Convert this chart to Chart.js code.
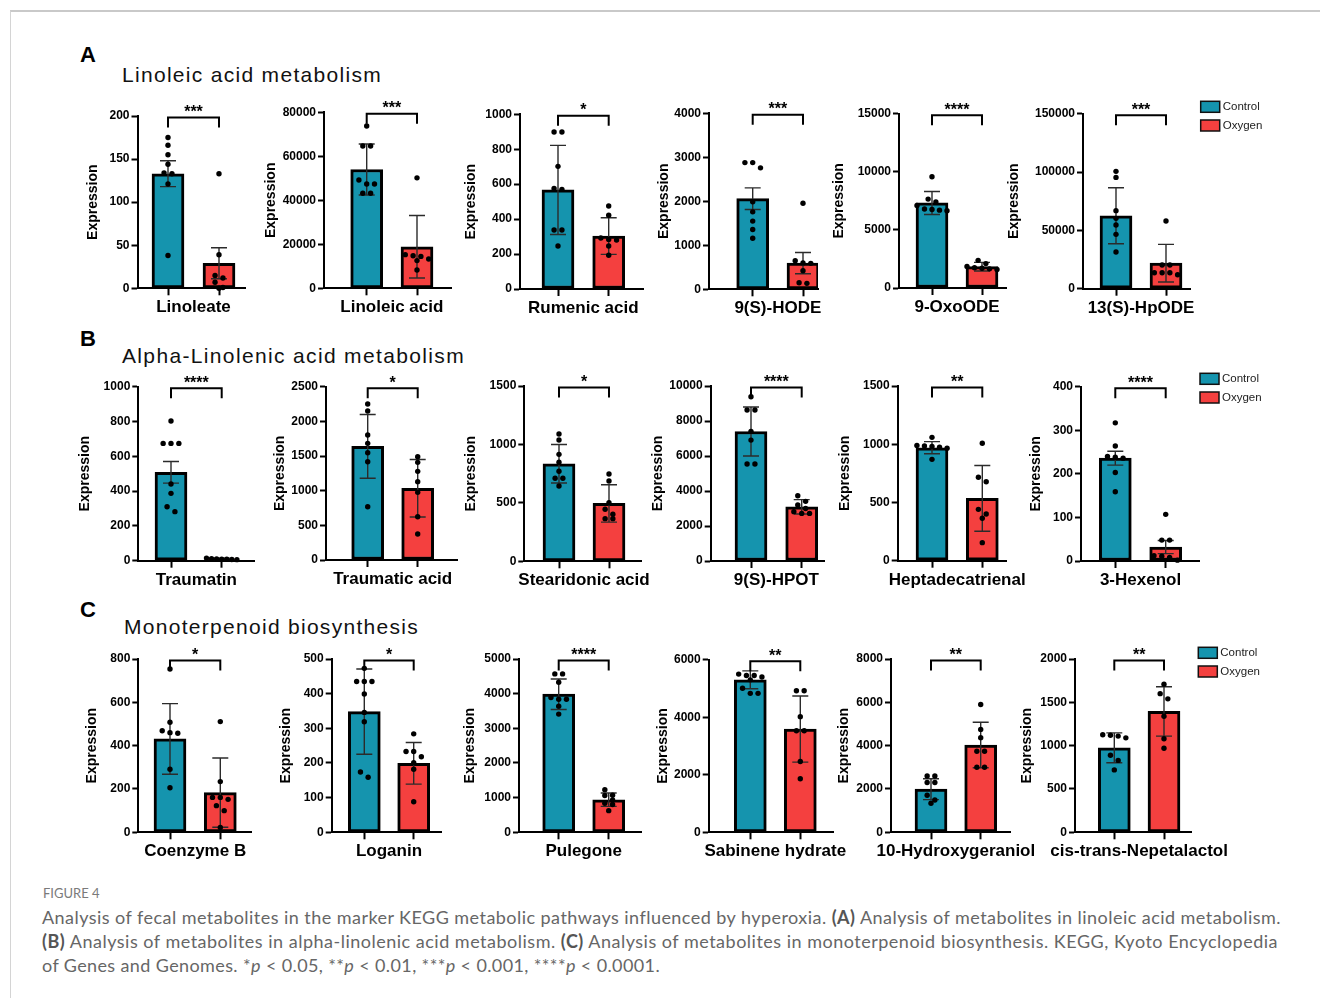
<!DOCTYPE html>
<html>
<head>
<meta charset="utf-8">
<script src="https://cdn.jsdelivr.net/npm/chart.js@4.4.1/dist/chart.umd.min.js"></script>
<style>
  html, body { margin: 0; padding: 0; background: #fff; }
  body { width: 1320px; height: 998px; overflow: hidden; position: relative; font-family: 'Liberation Sans', Arial, sans-serif; }
  .frame { position: absolute; left: 10px; top: 10px; width: 1400px; height: 1100px; border-top: 2px solid #c9c9c9; border-left: 1px solid #d4d4d4; }
  .letter { position: absolute; font-weight: bold; font-size: 22px; line-height: 1; color: #000; white-space: nowrap; }
  .sect { position: absolute; font-size: 21px; line-height: 1; color: #111; white-space: nowrap; }
  canvas { position: absolute; }
  .figlabel { position: absolute; left: 43px; top: 887px; font-family: Lato, 'Open Sans', sans-serif; font-size: 13px; line-height: 1; color: #7a7a7a; white-space: nowrap; }
  .cap { position: absolute; left: 42px; font-family: Lato, 'Open Sans', sans-serif; font-size: 18px; line-height: 1; color: #666; white-space: nowrap; }
  .cap b { color: #555; }
</style>
</head>
<body>
<div class="frame"></div>

<div class="letter" style="left:80px;top:44px">A</div>
<div class="sect" id="sect0" style="left:122px;top:63.9px"></div>
<div class="letter" style="left:80px;top:328px">B</div>
<div class="sect" id="sect1" style="left:122px;top:344.5px"></div>
<div class="letter" style="left:80px;top:599px">C</div>
<div class="sect" id="sect2" style="left:124px;top:615.5px"></div>

<div class="figlabel">FIGURE 4</div>
<div class="cap" id="cap1" style="top:908px">Analysis of fecal metabolites in the marker KEGG metabolic pathways influenced by hyperoxia. <b>(A)</b> Analysis of metabolites in linoleic acid metabolism.</div>
<div class="cap" id="cap2" style="top:932px"><b>(B)</b> Analysis of metabolites in alpha-linolenic acid metabolism. <b>(C)</b> Analysis of metabolites in monoterpenoid biosynthesis. KEGG, Kyoto Encyclopedia</div>
<div class="cap" id="cap3" style="top:956px">of Genes and Genomes. *<i>p</i> &lt; 0.05, **<i>p</i> &lt; 0.01, ***<i>p</i> &lt; 0.001, ****<i>p</i> &lt; 0.0001.</div>

<script>
// ---- data -------------------------------------------------------------
const groups = ['Control', 'Oxygen'];
const groupColors = ['#1594ae', '#f4403f'];

const sectionTitles = ['Linoleic acid metabolism', 'Alpha-Linolenic acid metabolism', 'Monoterpenoid biosynthesis'];

const metabolites = [
  'Linoleate', 'Linoleic acid', 'Rumenic acid', '9(S)-HODE', '9-OxoODE', '13(S)-HpODE',
  'Traumatin', 'Traumatic acid', 'Stearidonic acid', '9(S)-HPOT', 'Heptadecatrienal', '3-Hexenol',
  'Coenzyme B', 'Loganin', 'Pulegone', 'Sabinene hydrate', '10-Hydroxygeraniol', 'cis-trans-Nepetalactol'
];

const yMax  = [200, 80000, 1000, 4000, 15000, 150000, 1000, 2500, 1500, 10000, 1500, 400, 800, 500, 5000, 6000, 8000, 2000];
const yStep = [50, 20000, 200, 1000, 5000, 50000, 200, 500, 500, 2000, 500, 100, 200, 100, 1000, 2000, 2000, 500];

const controlMean = [133, 54000, 567, 2060, 7320, 62500, 508, 1640, 835, 7400, 970, 236, 431, 348, 3985, 5300, 1990, 975];
const controlErr  = [15, 11600, 255, 245, 990, 24000, 62, 460, 165, 1400, 52, 16, 163, 123, 440, 310, 480, 172];
const oxygenMean  = [29, 18900, 303, 595, 1835, 21900, 10, 1035, 495, 3100, 535, 32, 183, 199, 940, 3590, 4030, 1395];
const oxygenErr   = [18, 14200, 105, 240, 370, 16100, 4, 415, 160, 410, 282, 15, 160, 60, 192, 1150, 1050, 285];

const controlPoints = [
  [175, 166, 155, 144, 134, 133, 121, 38],
  [73800, 64700, 64700, 49200, 47400, 47400, 43200, 43200],
  [899, 899, 702, 575, 570, 338, 338, 246],
  [2880, 2880, 2760, 1990, 1760, 1550, 1360, 1160],
  [9580, 7650, 7400, 7100, 6800, 6750, 6700, 6650],
  [100600, 95400, 66900, 60300, 54600, 46600, 31400],
  [803, 674, 674, 674, 441, 387, 310, 282],
  [2250, 2149, 1803, 1683, 1548, 1418, 769],
  [1089, 1038, 915, 847, 770, 710, 710, 644],
  [9390, 8630, 8630, 7410, 6910, 5540, 5540],
  [1059, 990, 985, 980, 975, 965, 870],
  [317, 264, 240, 238, 236, 203, 159],
  [754, 508, 469, 460, 457, 291, 206],
  [473, 435, 435, 435, 399, 346, 319, 174, 159],
  [4570, 4570, 4330, 3890, 3840, 3840, 3640, 3410],
  [5500, 5450, 5450, 5400, 5300, 5010, 4830, 4830],
  [2600, 2600, 2300, 2300, 1710, 1490, 1340],
  [1125, 1120, 1110, 1090, 890, 830, 720]
];
const oxygenPoints = [
  [133, 39, 15, 12, 7, 1, 0],
  [50200, 15300, 14800, 14500, 13300, 12600, 8300],
  [475, 422, 292, 284, 280, 246, 193],
  [1955, 650, 600, 590, 420, 150, 135],
  [2380, 2100, 1850, 1750, 1700, 1650, 1600],
  [58000, 20300, 20300, 13700, 13700, 13700, 12000],
  [15, 12, 10, 9, 8, 7, 6],
  [1490, 1409, 1279, 1130, 976, 625, 375],
  [747, 687, 502, 445, 402, 365, 365],
  [3730, 3410, 3200, 3000, 2820, 2720, 2720],
  [1008, 716, 678, 441, 401, 364, 155],
  [107, 48, 48, 12, 11, 8, 2],
  [511, 234, 161, 161, 152, 123, 100, 22],
  [284, 233, 233, 218, 201, 182, 88],
  [1230, 1070, 1060, 930, 840, 800, 625],
  [4920, 4920, 4020, 3530, 3530, 2460, 1860],
  [5900, 4750, 4370, 3740, 3740, 3000, 3000],
  [1710, 1600, 1540, 1340, 1080, 970]
];

const significance = ['***', '***', '*', '***', '****', '***', '****', '*', '*', '****', '**', '****', '*', '*', '****', '**', '**', '**'];

// ---- page layout (pixels) ---------------------------------------------
// [y-axis x, y of top tick, y of zero, x-axis end, first tick x, second tick x, y-title centre x]
const panelLayout = [
  [137.5, 116, 288.3, 245, 168, 219, 93],
  [324, 112.3, 288.3, 451, 366.7, 417, 271],
  [520, 114.3, 289, 643, 558, 608.7, 471],
  [709, 113.3, 289.3, 818, 752.7, 803, 664],
  [899, 113.7, 288, 1006.7, 932, 982, 839],
  [1083, 113.7, 288.7, 1190, 1116, 1166, 1014],
  [138.3, 386.7, 560.7, 254, 171, 221.7, 85],
  [326, 386.7, 560, 457, 367.7, 417.7, 280],
  [524.3, 386, 561.3, 641, 559, 609, 471],
  [710.7, 386, 561, 824, 751, 801.7, 658],
  [897.7, 386, 560.7, 1006.7, 932, 982.3, 845],
  [1081, 386.7, 561, 1199, 1115.3, 1165.7, 1036],
  [138.3, 659, 832.3, 251.7, 170, 220.3, 92],
  [331.7, 659, 832.3, 441.7, 364.3, 413.7, 286],
  [519, 659, 832.3, 641, 558.7, 608.7, 470.7],
  [708.7, 659.7, 832.3, 833, 750.3, 800.3, 663],
  [891, 659, 832.3, 1010, 931, 980.7, 844],
  [1075, 659, 832.3, 1191.7, 1114.3, 1164, 1027]
];
// top-left of the first legend swatch in each row
const legendAnchor = [[1200.7, 101.3], [1200, 373.3], [1198.3, 647.3]];

const FONT = "'Liberation Sans', Arial, sans-serif";

// Side-by-side offsets (in category units) for dots whose values would overlap.
function swarmOffsets(values, axisMax) {
  const thr = axisMax * 0.032;
  const order = values.map((v, k) => k).sort((a, b) => values[b] - values[a]);
  const offs = new Array(values.length).fill(0);
  let cluster = [];
  const flush = () => {
    const k = cluster.length;
    const gap = k > 1 ? Math.min(0.155, 0.6 / (k - 1)) : 0;
    cluster.forEach((idx, j) => { offs[idx] = (j - (k - 1) / 2) * gap; });
    cluster = [];
  };
  for (const idx of order) {
    if (cluster.length && values[cluster[0]] - values[idx] > thr) flush();
    cluster.push(idx);
  }
  flush();
  return offs;
}

// Error bars, significance bracket and legend for one panel.
const panelMarks = {
  id: 'panelMarks',
  afterDatasetDraw(chart, args, opts) {
    if (args.index !== 0) return;
    const { ctx } = chart;
    const xs = chart.scales.x, ys = chart.scales.y;
    ctx.save();
    ctx.strokeStyle = '#2b2b2b';
    ctx.lineWidth = 1.4;
    opts.means.forEach((m, g) => {
      const x = xs.getPixelForValue(g);
      const yt = ys.getPixelForValue(m + opts.errs[g]);
      const yb = ys.getPixelForValue(Math.max(0, m - opts.errs[g]));
      ctx.beginPath();
      ctx.moveTo(x, yt); ctx.lineTo(x, yb);
      ctx.moveTo(x - 8, yt); ctx.lineTo(x + 8, yt);
      ctx.moveTo(x - 8, yb); ctx.lineTo(x + 8, yb);
      ctx.stroke();
    });
    ctx.restore();
  },
  afterDraw(chart, args, opts) {
    const { ctx } = chart;
    const xs = chart.scales.x, ys = chart.scales.y;
    const x0 = xs.getPixelForValue(0), x1 = xs.getPixelForValue(1);
    const yb = ys.getPixelForValue(ys.max) + 1.5;
    ctx.save();
    ctx.strokeStyle = '#000';
    ctx.lineWidth = 2;
    ctx.beginPath();
    ctx.moveTo(x0, yb + 10); ctx.lineTo(x0, yb); ctx.lineTo(x1, yb); ctx.lineTo(x1, yb + 10);
    ctx.stroke();
    ctx.fillStyle = '#000';
    ctx.font = 'bold 16px ' + FONT;
    ctx.textAlign = 'center';
    ctx.textBaseline = 'alphabetic';
    ctx.fillText(opts.stars, (x0 + x1) / 2, yb - 0.5);
    if (opts.legend) {
      const [lx, ly] = opts.legend;
      ctx.font = '11.5px ' + FONT;
      ctx.textAlign = 'left';
      ctx.textBaseline = 'middle';
      groups.forEach((name, g) => {
        const y = ly + g * 18.7;
        ctx.fillStyle = groupColors[g];
        ctx.fillRect(lx, y, 19, 11);
        ctx.strokeStyle = '#111';
        ctx.lineWidth = 1.5;
        ctx.strokeRect(lx, y, 19, 11);
        ctx.fillStyle = '#222';
        ctx.fillText(name, lx + 22, y + 5.8);
      });
    }
    ctx.restore();
  }
};

metabolites.forEach((name, i) => {
  const [ax, top, zero, right, t0, t1, tx] = panelLayout[i];
  const row = Math.floor(i / 6);
  const lastInRow = i % 6 === 5;

  const cLeft = Math.round(tx - 8.4);
  const cTop = Math.round(top - 32);
  const yAxisW = ax - cLeft;
  const padTop = top - cTop;
  const extraRight = lastInRow ? 130 : 50;
  const W = Math.ceil(yAxisW + (right - ax) + extraRight);
  const padRight = W - yAxisW - (right - ax);
  const H = Math.ceil(padTop + (zero - top) + 40);
  const axisBelow = H - padTop - (zero - top);

  const unit = t1 - t0;
  const xMin = -(t0 - ax) / unit;
  const xMax = 1 + (right - t1) / unit;

  const canvas = document.createElement('canvas');
  canvas.width = W; canvas.height = H;
  canvas.style.left = cLeft + 'px';
  canvas.style.top = cTop + 'px';
  canvas.style.width = W + 'px';
  canvas.style.height = H + 'px';
  document.body.appendChild(canvas);

  const cOff = swarmOffsets(controlPoints[i], yMax[i]);
  const oOff = swarmOffsets(oxygenPoints[i], yMax[i]);
  const dots = controlPoints[i].map((v, k) => ({ x: 0 + cOff[k], y: v }))
    .concat(oxygenPoints[i].map((v, k) => ({ x: 1 + oOff[k], y: v })));

  const legend = lastInRow ? [legendAnchor[row][0] - cLeft, legendAnchor[row][1] - cTop] : null;

  new Chart(canvas, {
    type: 'bar',
    data: {
      datasets: [
        {
          type: 'bar',
          data: [{ x: 0, y: controlMean[i] }, { x: 1, y: oxygenMean[i] }],
          backgroundColor: groupColors,
          borderColor: '#000',
          borderWidth: 3,
          borderSkipped: false,
          barThickness: 32,
          order: 2
        },
        {
          type: 'scatter',
          data: dots,
          pointRadius: 2.7,
          pointBackgroundColor: '#000',
          pointBorderWidth: 0,
          clip: false,
          order: 1
        }
      ]
    },
    options: {
      responsive: false,
      animation: false,
      devicePixelRatio: 1,
      layout: { padding: { top: padTop, right: padRight, left: 0, bottom: 0 } },
      plugins: {
        legend: { display: false },
        tooltip: { enabled: false },
        panelMarks: {
          means: [controlMean[i], oxygenMean[i]],
          errs: [controlErr[i], oxygenErr[i]],
          stars: significance[i],
          legend: legend
        }
      },
      scales: {
        x: {
          type: 'linear',
          min: xMin, max: xMax,
          offset: false,
          afterBuildTicks: s => { s.ticks = [{ value: 0 }, { value: 0.5 }, { value: 1 }]; },
          afterFit: s => { s.height = axisBelow; },
          ticks: {
            autoSkip: false, maxRotation: 0, minRotation: 0, padding: 2,
            color: '#000',
            font: { family: FONT, weight: 'bold', size: 17, lineHeight: 1.2 },
            callback: v => (v === 0.5 ? name : '')
          },
          grid: {
            drawOnChartArea: false, offset: false, drawTicks: true,
            tickLength: 7, tickWidth: 2,
            tickColor: c => (c.tick && c.tick.value === 0.5) ? 'rgba(0,0,0,0)' : '#000'
          },
          border: { display: true, color: '#000', width: 2 }
        },
        y: {
          type: 'linear',
          min: 0, max: yMax[i],
          afterFit: s => { s.width = yAxisW; },
          ticks: {
            stepSize: yStep[i], padding: 2, color: '#000',
            font: { family: FONT, weight: 'bold', size: 12 },
            callback: v => String(v)
          },
          grid: { drawOnChartArea: false, drawTicks: true, tickLength: 6, tickWidth: 2, tickColor: '#000' },
          border: { display: true, color: '#000', width: 2 },
          title: {
            display: true, text: 'Expression', color: '#000', padding: 0,
            font: { family: FONT, weight: 'bold', size: 14, lineHeight: 1.2 }
          }
        }
      }
    },
    plugins: [panelMarks]
  });
});

// ---- headings and caption ---------------------------------------------
function fitTracking(el, target) {
  el.style.letterSpacing = '0px';
  const w = el.getBoundingClientRect().width;
  const n = el.textContent.length;
  el.style.letterSpacing = ((target - w) / n) + 'px';
}
sectionTitles.forEach((t, k) => { document.getElementById('sect' + k).textContent = t; });
fitTracking(document.getElementById('sect0'), 260);
fitTracking(document.getElementById('sect1'), 343);
fitTracking(document.getElementById('sect2'), 295);
fitTracking(document.getElementById('cap1'), 1239);
fitTracking(document.getElementById('cap2'), 1236);
fitTracking(document.getElementById('cap3'), 618);
</script>
</body>
</html>
